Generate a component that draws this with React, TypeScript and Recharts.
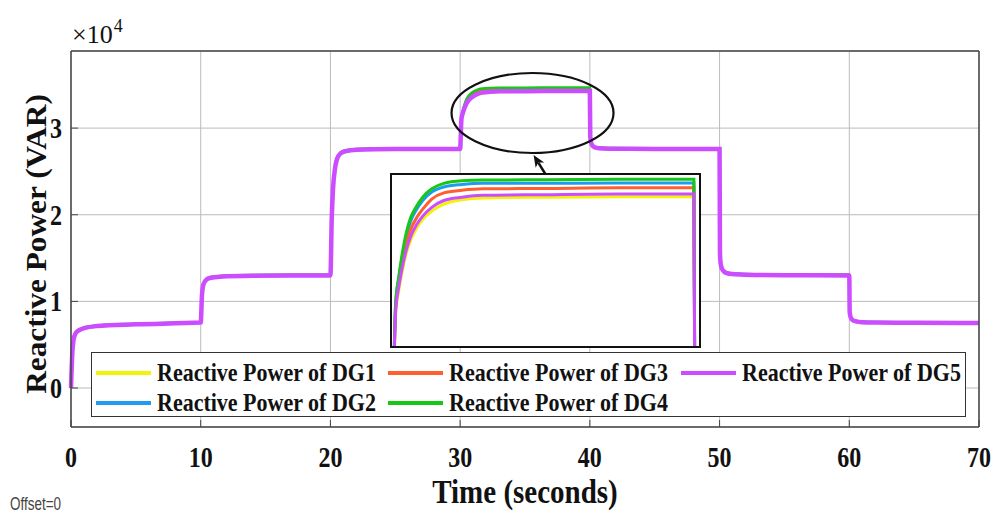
import { LineChart, Line, XAxis, YAxis, CartesianGrid, Legend, ReferenceDot, ReferenceLine } from 'recharts';

// time in seconds
const time = [
  0, 0.1, 0.2, 0.35, 0.6, 1, 2, 5, 10,
  10.1, 10.2, 10.4, 10.7, 11.5, 14, 20,
  20.1, 20.2, 20.35, 20.5, 20.8, 21.2, 22, 25, 30,
  30.1, 30.2, 30.3, 30.45, 30.6, 30.8, 31, 31.3, 31.7, 32.3, 33, 35, 37.5, 40,
  40.03, 40.1, 40.25, 40.5, 41, 42, 45, 50,
  50.03, 50.1, 50.25, 50.5, 51, 52, 55, 60,
  60.03, 60.1, 60.25, 60.5, 61, 62, 65, 70,
];

// reactive power (VAR) of each DG
const dg1 = [
  0, 3980, 5580, 6280, 6630, 6880, 7130, 7330, 7530,
  10780, 11880, 12430, 12680, 12830, 12930, 12980,
  19450, 22950, 25250, 26370, 27080, 27330, 27480, 27560, 27580,
  30990, 31600, 32070, 32640, 33010, 33340, 33580, 33810, 34000, 34120, 34170, 34190, 34200, 34200,
  28980, 28280, 27880, 27700, 27630, 27600, 27580, 27560,
  15480, 14180, 13580, 13280, 13130, 13060, 13000, 12980,
  8780, 8180, 7830, 7680, 7580, 7540, 7500, 7480,
];
const dg2 = [
  0, 4030, 5630, 6340, 6700, 6950, 7200, 7400, 7600,
  10870, 11970, 12510, 12760, 12910, 13010, 13060,
  19650, 23150, 25450, 26510, 27190, 27430, 27570, 27650, 27660,
  31230, 31930, 32450, 33110, 33530, 33860, 34100, 34330, 34470, 34540, 34570, 34570, 34580, 34580,
  29080, 28360, 27960, 27780, 27710, 27680, 27660, 27640,
  15580, 14260, 13660, 13360, 13210, 13140, 13080, 13060,
  8840, 8240, 7890, 7740, 7640, 7600, 7560, 7540,
];
const dg3 = [
  0, 4010, 5610, 6320, 6670, 6920, 7170, 7370, 7570,
  10830, 11930, 12480, 12730, 12880, 12980, 13030,
  19570, 23070, 25370, 26450, 27140, 27390, 27540, 27620, 27630,
  31130, 31840, 32310, 32920, 33300, 33630, 33860, 34140, 34310, 34380, 34420, 34430, 34450, 34450,
  29040, 28330, 27930, 27750, 27680, 27650, 27630, 27610,
  15540, 14230, 13630, 13330, 13180, 13110, 13050, 13030,
  8820, 8220, 7870, 7720, 7620, 7580, 7540, 7520,
];
const dg4 = [
  0, 4050, 5650, 6360, 6720, 6970, 7220, 7420, 7620,
  10900, 12000, 12540, 12790, 12940, 13040, 13080,
  19700, 23200, 25500, 26550, 27220, 27460, 27600, 27670, 27680,
  31280, 31980, 32540, 33200, 33630, 33950, 34190, 34420, 34570, 34640, 34660, 34670, 34680, 34680,
  29100, 28380, 27980, 27800, 27730, 27700, 27680, 27660,
  15600, 14280, 13680, 13380, 13230, 13160, 13100, 13080,
  8860, 8260, 7910, 7760, 7660, 7620, 7580, 7560,
];
const dg5 = [
  0, 4000, 5600, 6300, 6650, 6900, 7150, 7350, 7550,
  10800, 11900, 12450, 12700, 12850, 12950, 13000,
  19500, 23000, 25300, 26400, 27100, 27350, 27500, 27580, 27600,
  31040, 31700, 32170, 32730, 33110, 33440, 33670, 33910, 34100, 34190, 34240, 34260, 34280, 34280,
  29000, 28300, 27900, 27720, 27650, 27620, 27600, 27580,
  15500, 14200, 13600, 13300, 13150, 13080, 13020, 13000,
  8800, 8200, 7850, 7700, 7600, 7560, 7520, 7500,
];

const xTicks = [0, 10, 20, 30, 40, 50, 60, 70];
const yTicks = [0, 10000, 20000, 30000];
const yTickLabels = ['0', '1', '2', '3'];
const insetTicks = [30600, 32080, 33590];

const series = [
  { key: 'dg1', name: 'Reactive Power of DG1', color: '#f2f20a' },
  { key: 'dg2', name: 'Reactive Power of DG2', color: '#1f9cf0' },
  { key: 'dg3', name: 'Reactive Power of DG3', color: '#ff5f2e' },
  { key: 'dg4', name: 'Reactive Power of DG4', color: '#14c814' },
  { key: 'dg5', name: 'Reactive Power of DG5', color: '#cc4cff' },
];

const rows = time.map((t, i) => ({ t, dg1: dg1[i], dg2: dg2[i], dg3: dg3[i], dg4: dg4[i], dg5: dg5[i] }));
const insetRows = rows.filter((r) => r.t >= 30 && r.t <= 40.25);

const serif = '"Liberation Serif", "Times New Roman", serif';
const axisColor = '#444';

function XTick(props: any) {
  const { x, y, payload } = props;
  return (
    <g transform={`translate(${x},${y + 40}) scale(1,1.25)`}>
      <text textAnchor="middle" fontFamily={serif} fontWeight="bold" fontSize={24} fill="#111">
        {payload.value}
      </text>
    </g>
  );
}

function YTick(props: any) {
  const { x, y, payload } = props;
  const label = yTickLabels[yTicks.indexOf(payload.value)];
  return (
    <g transform={`translate(${x},${y + 10}) scale(1,1.25)`}>
      <text textAnchor="end" fontFamily={serif} fontWeight="bold" fontSize={24} fill="#111">
        {label}
      </text>
    </g>
  );
}

function ArrowShape(props: any) {
  const { x1, y1, x2, y2 } = props;
  const ang = Math.atan2(y2 - y1, x2 - x1);
  const c = Math.cos(ang);
  const s = Math.sin(ang);
  const bx = x2 - 12 * c;
  const by = y2 - 12 * s;
  const nx = bx + 3 * c;
  const ny = by + 3 * s;
  return (
    <g>
      <line x1={x1} y1={y1} x2={nx} y2={ny} stroke="#111" strokeWidth={2.5} />
      <polygon
        points={`${x2},${y2} ${bx - 5 * s},${by + 5 * c} ${nx},${ny} ${bx + 5 * s},${by - 5 * c}`}
        fill="#111"
      />
    </g>
  );
}

function EllipseShape(props: any) {
  const { cx, cy } = props;
  return <ellipse cx={cx} cy={cy} rx={81} ry={40} fill="none" stroke="#111" strokeWidth={2.2} />;
}

const legendCols = [4, 296, 589];
const legendRows = [20, 50];

function LegendBox() {
  return (
    <div
      style={{
        width: '100%',
        height: '100%',
        boxSizing: 'border-box',
        border: '1.5px solid #333',
        background: '#fff',
        position: 'relative',
      }}
    >
      {series.map((s, i) => {
        const left = legendCols[Math.floor(i / 2)];
        const cy = legendRows[i % 2];
        return (
          <div key={s.key}>
            <div style={{ position: 'absolute', left, top: cy - 2, width: 55, height: 4, background: s.color }} />
            <div
              style={{
                position: 'absolute',
                left: left + 61,
                top: cy - 11,
                fontFamily: serif,
                fontWeight: 'bold',
                fontSize: 22,
                lineHeight: '22px',
                whiteSpace: 'nowrap',
                color: '#111',
                transform: 'scaleY(1.12)',
              }}
            >
              {s.name}
            </div>
          </div>
        );
      })}
    </div>
  );
}

export default function App() {
  return (
    <div style={{ position: 'absolute', left: 0, top: 0, width: 994, height: 513, background: '#fff' }}>
      <LineChart width={994} height={513} data={rows} margin={{ top: 50, right: 14, bottom: 0, left: 0 }}>
        <CartesianGrid stroke="#bcbcbc" strokeWidth={1} />
        <XAxis
          dataKey="t"
          type="number"
          domain={[0, 70]}
          ticks={xTicks}
          interval={0}
          height={86}
          tickSize={-7}
          tickMargin={7}
          tick={XTick}
          axisLine={{ stroke: axisColor, strokeWidth: 1.5 }}
          tickLine={{ stroke: axisColor }}
        />
        <XAxis
          xAxisId="top"
          orientation="top"
          dataKey="t"
          type="number"
          domain={[0, 70]}
          ticks={xTicks}
          interval={0}
          height={1}
          tickSize={-7}
          tick={false}
          axisLine={{ stroke: axisColor, strokeWidth: 1.5 }}
          tickLine={{ stroke: axisColor }}
        />
        <YAxis
          type="number"
          domain={[-4500, 38900]}
          ticks={yTicks}
          interval={0}
          width={71}
          tickSize={-7}
          tickMargin={16}
          tick={YTick}
          allowDataOverflow
          axisLine={{ stroke: axisColor, strokeWidth: 1.5 }}
          tickLine={{ stroke: axisColor }}
        />
        <YAxis
          yAxisId="right"
          orientation="right"
          type="number"
          domain={[-4500, 38900]}
          ticks={yTicks}
          interval={0}
          width={1}
          tickSize={-7}
          tick={false}
          allowDataOverflow
          axisLine={{ stroke: axisColor, strokeWidth: 1.5 }}
          tickLine={{ stroke: axisColor }}
        />
        {series.map((s) => (
          <Line
            key={s.key}
            type="monotone"
            dataKey={s.key}
            name={s.name}
            stroke={s.color}
            strokeWidth={s.key === 'dg5' ? 4.5 : 2.5}
            dot={false}
            activeDot={false}
            isAnimationActive={false}
          />
        ))}
        <ReferenceDot x={35.58} y={31744} r={1} shape={EllipseShape} ifOverflow="visible" />
        <ReferenceLine
          segment={[
            { x: 36.62, y: 24590 },
            { x: 35.66, y: 26900 },
          ]}
          shape={ArrowShape}
          ifOverflow="visible"
        />
        <Legend
          layout="horizontal"
          verticalAlign="middle"
          align="center"
          content={() => <LegendBox />}
          wrapperStyle={{ left: 91, top: 352, width: 875, height: 65 }}
        />
      </LineChart>

      <svg width={994} height={513} style={{ position: 'absolute', left: 0, top: 0, pointerEvents: 'none' }}>
        <text x={72} y={43} fontFamily={serif} fontSize={26} fill="#111">
          ×10
          <tspan fontSize={18} dy={-11} dx={1}>
            4
          </tspan>
        </text>
        <g transform="translate(46,244) scale(1,1.08) rotate(-90)">
          <text textAnchor="middle" fontFamily={serif} fontWeight="bold" fontSize={29} fill="#111">
            Reactive Power (VAR)
          </text>
        </g>
        <g transform="translate(525,503) scale(1,1.15)">
          <text textAnchor="middle" fontFamily={serif} fontWeight="bold" fontSize={29} fill="#111">
            Time (seconds)
          </text>
        </g>
        <g transform="translate(10,510) scale(1,1.3)">
          <text fontFamily='"Liberation Sans", Arial, sans-serif' fontSize={13.5} fill="#444">
            Offset=0
          </text>
        </g>
      </svg>

      <div
        style={{
          position: 'absolute',
          left: 390,
          top: 173,
          width: 311,
          height: 175,
          border: '2px solid #111',
          boxSizing: 'border-box',
          background: '#fff',
        }}
      >
        <LineChart width={307} height={171} data={insetRows} margin={{ top: 0, right: 0, bottom: 0, left: 0 }}>
          <XAxis dataKey="t" type="number" domain={[29.98, 40.17]} hide allowDataOverflow />
          <YAxis type="number" domain={[30100, 34800]} hide allowDataOverflow />
          <YAxis
            yAxisId="tick"
            orientation="right"
            type="number"
            domain={[30100, 34800]}
            ticks={insetTicks}
            width={0}
            mirror
            tick={false}
            tickSize={5}
            axisLine={false}
            tickLine={{ stroke: '#555' }}
          />
          {series.map((s) => (
            <Line
              key={s.key}
              type="monotone"
              dataKey={s.key}
              stroke={s.color}
              strokeWidth={3}
              dot={false}
              activeDot={false}
              isAnimationActive={false}
            />
          ))}
        </LineChart>
      </div>
    </div>
  );
}
